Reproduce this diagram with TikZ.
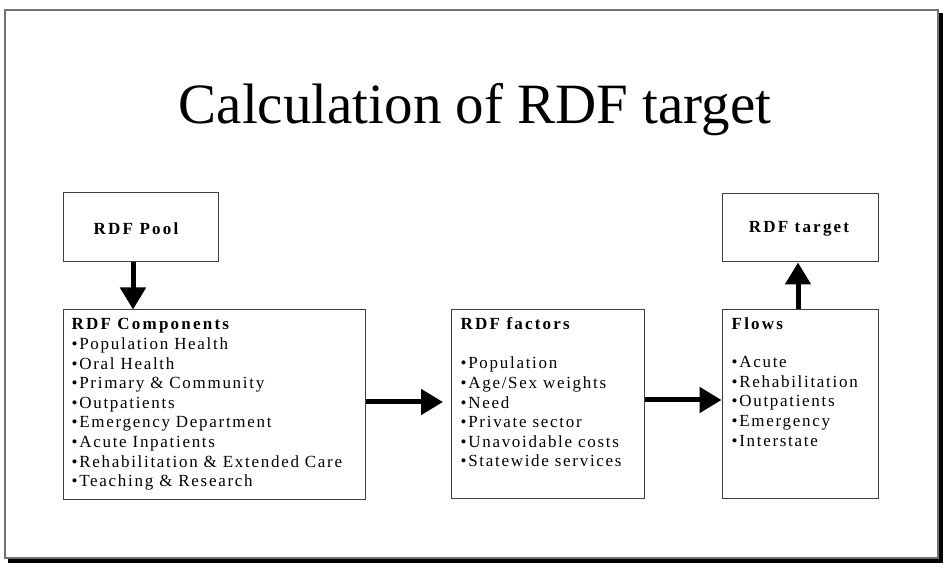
\documentclass[tikz,border=0pt]{standalone}
\usepackage{fontspec}
\setmainfont{Liberation Serif}
\newfontfamily\boxfont[LetterSpace=10,BoldFeatures={LetterSpace=13}]{Liberation Serif}
\usetikzlibrary{arrows.meta}
\begin{document}
\begin{tikzpicture}[x=1pt,y=-1pt,
  panel/.style={draw=black!75,line width=1pt,inner sep=0pt},
  boxtext/.style={inner sep=0pt,align=left,anchor=north west,
    font=\boxfont\fontsize{17}{19.6}\selectfont},
  boxlabel/.style={inner sep=0pt,font=\boxfont\bfseries\fontsize{17}{19.6}\selectfont},
  bigarrow/.style={line width=5pt,-{Triangle[length=22pt,width=25pt]}}]
\useasboundingbox (0,0) rectangle (946,569);
\fill[white] (0,0) rectangle (946,569);
% frame with shadow
\fill[black] (938,13) rectangle (943,563);
\fill[black] (8,558) rectangle (943,563);
\draw[black!55,line width=1.2pt] (5,10) rectangle (938,558);
% title
\node[anchor=base,inner sep=0pt,font=\fontsize{57}{62}\selectfont] (title) at (475,124) {Calculation of RDF target};
% boxes
\node[panel,minimum width=155pt,minimum height=69pt] (pool) at (140.5,227.5) {};
\node[panel,minimum width=302pt,minimum height=189pt] (comp) at (214,404.5) {};
\node[panel,minimum width=193pt,minimum height=188pt] (fact) at (547.5,404) {};
\node[panel,minimum width=156pt,minimum height=188pt] (flows) at (800,404) {};
\node[panel,minimum width=156pt,minimum height=68pt] (target) at (800,228) {};
% labels
\node[boxlabel] (poollbl) at (136,229) {RDF Pool};
\node[boxlabel] (targetlbl) at (799,229) {RDF target};
\node[boxtext] (comptxt) at ([xshift=9pt,yshift=-9pt]comp.north west) {\textbf{RDF Components}\\
•Population Health\\
•Oral Health\\
•Primary \& Community\\
•Outpatients\\
•Emergency Department\\
•Acute Inpatients\\
•Rehabilitation \& Extended Care\\
•Teaching \& Research};
\node[boxtext] (facttxt) at ([xshift=10pt,yshift=-8pt]fact.north west) {\textbf{RDF factors}\\[19.6pt]
•Population\\
•Age/Sex weights\\
•Need\\
•Private sector\\
•Unavoidable costs\\
•Statewide services};
\node[boxtext] (flowstxt) at ([xshift=10pt,yshift=-8pt]flows.north west) {\textbf{Flows}\\[18.6pt]
•Acute\\
•Rehabilitation\\
•Outpatients\\
•Emergency\\
•Interstate};
% arrows
\draw[bigarrow] (pool.south -| 133,0) -- (comp.north -| 133,0);
\coordinate (a1end) at (443,402);
\draw[bigarrow] (comp.east |- a1end) -- (a1end);
\draw[bigarrow] (fact.east |- 0,400) -- (flows.west |- 0,400);
\draw[bigarrow] (flows.north -| 798,0) -- (target.south -| 798,0);
\end{tikzpicture}
\end{document}
